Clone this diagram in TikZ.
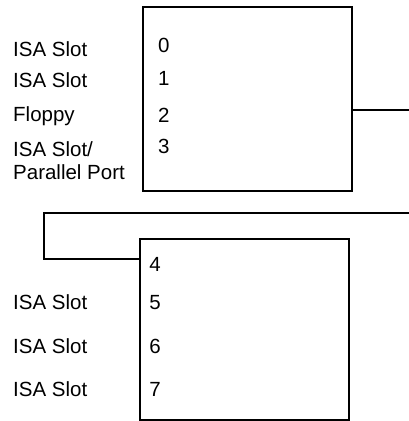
\documentclass[tikz,border=0pt]{standalone}
\usepackage{fontspec}
\setmainfont{Liberation Sans}
\newcommand{\irqfont}{\fontsize{20.5}{23}\selectfont}
\tikzset{
	pic/.style={draw,line width=1.8pt,inner sep=0,outer sep=0},
	num/.style={anchor=base west,inner sep=0},
	lbl/.style={anchor=base west,inner sep=0,align=left},
}
\begin{document}
\begin{tikzpicture}[x=1pt,y=1pt,font=\irqfont, line join=miter, line cap=rect]
	\useasboundingbox (0,0) rectangle (408,421);
	\path(247.2,321.9)node(pa)[pic,minimum width=209pt,minimum height=183.7pt]{}
	(244.7,91.5)node(pb)[pic,minimum width=209.3pt,minimum height=181pt]{}
	;
	\path
	(pa.north west)++(15.3,-45.7)node(a0)[num]{0}
	(pa.north west)++(15.3,-78.7)node(a1)[num]{1}
	(pa.north west)++(15.3,-115.7)node(a2)[num]{2}
	(pa.north west)++(15.3,-146.7)node(a3)[num]{3}
	;
	\path
	(pb.north west)++(9,-32.7)node(b4)[num]{4}
	(pb.north west)++(9,-71)node(b5)[num]{5}
	(pb.north west)++(9,-114.3)node(b6)[num]{6}
	(pb.north west)++(9,-157.7)node(b7)[num]{7}
	;
	\path
	(13,364)node(la0)[lbl]{ISA Slot}
	(13,333)node(la1)[lbl]{ISA Slot}
	(13,299)node(la2)[lbl]{Floppy}
	(13,241)node(la3)[lbl]{ISA Slot/\\Parallel Port}
	(13,111)node(lb5)[lbl]{ISA Slot}
	(13,67.7)node(lb6)[lbl]{ISA Slot}
	(13,24.3)node(lb7)[lbl]{ISA Slot}
	;
	\coordinate(wa) at (408,311);
	\coordinate(wb) at (408,207.7);
	\draw[line width=1.8pt](pa.east|-wa)--(wa);
	\draw[line width=1.8pt](wb)--++(-363.7,0)|-([yshift=-20.3pt]pb.north west);
\end{tikzpicture}
\end{document}
